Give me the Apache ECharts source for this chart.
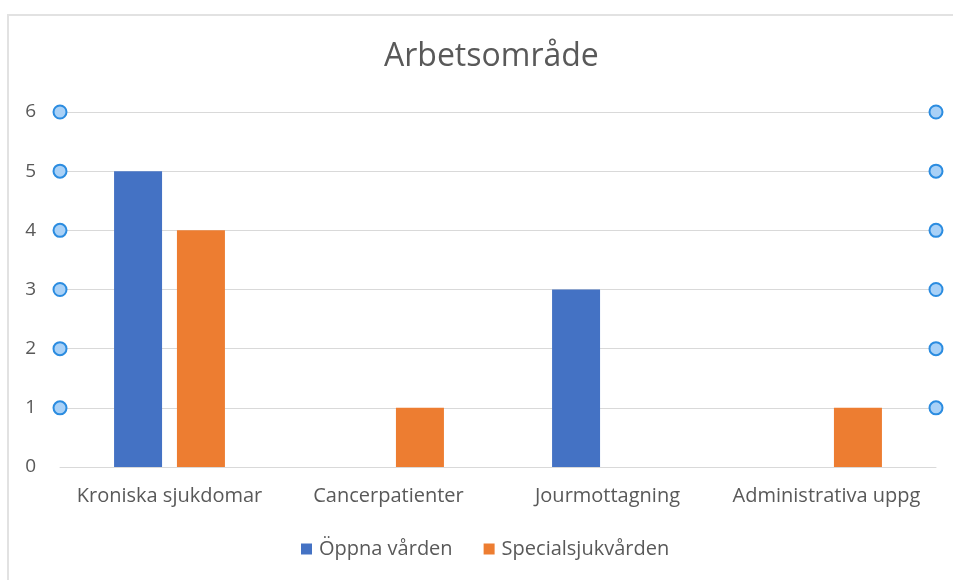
<!DOCTYPE html>
<html>
<head>
<meta charset="utf-8">
<script src="https://cdn.jsdelivr.net/npm/echarts@6/dist/echarts.min.js"></script>
<style>
  html, body { margin: 0; padding: 0; background: #fff; }
  #chart { width: 953px; height: 580px; }
</style>
</head>
<body>
<div id="chart"></div>
<script>
// data
var categories = ['Kroniska sjukdomar', 'Cancerpatienter', 'Jourmottagning', 'Administrativa uppg'];
var oppnaVarden = [5, 0, 3, 0];
var specialVarden = [4, 1, 0, 1];
var yTicks = [0, 1, 2, 3, 4, 5, 6];

var chart = echarts.init(document.getElementById('chart'));

// selection handles at both ends of each gridline (hidden 0..1 x axis)
var handles = [];
yTicks.forEach(function (v) {
  if (v > 0) {
    handles.push([0, v]);
    handles.push([1, v]);
  }
});

var font = '"Open Sans", "Noto Sans", sans-serif';

chart.setOption({
  animation: false,
  textStyle: { fontFamily: font },
  title: {
    text: 'Arbetsområde',
    left: 379,
    top: 36,
    textStyle: { fontFamily: font, fontSize: 32, fontWeight: 'normal', color: '#595959' }
  },
  graphic: [{
    type: 'rect',
    shape: { x: 8, y: 15, width: 1000, height: 700 },
    style: { fill: 'none', stroke: '#e2e2e2', lineWidth: 2 },
    silent: true
  }],
  legend: {
    data: ['Öppna vården', 'Specialsjukvården'],
    top: 534,
    left: 296,
    itemWidth: 11,
    itemHeight: 11,
    itemGap: 31,
    icon: 'rect',
    textStyle: { fontFamily: font, fontSize: 20, color: '#595959', padding: [0, 0, 0, 2] }
  },
  grid: { left: 60, right: 17, top: 112, bottom: 113 },
  xAxis: [{
    type: 'category',
    data: categories,
    axisTick: { show: false },
    axisLine: { lineStyle: { color: '#d9d9d9', width: 1 } },
    axisLabel: { fontFamily: font, fontSize: 20, color: '#595959', margin: 19, interval: 0 }
  }, {
    type: 'value',
    min: 0,
    max: 1,
    show: false
  }],
  yAxis: [{
    type: 'value',
    min: 0,
    max: 6,
    interval: 1,
    axisLine: { show: false },
    axisTick: { show: false },
    splitLine: { lineStyle: { color: '#d9d9d9', width: 1 } },
    axisLabel: { fontFamily: font, fontSize: 19, color: '#595959', margin: 24 }
  }, {
    type: 'value',
    min: 0,
    max: 6,
    show: false
  }],
  series: [{
    name: 'Öppna vården',
    type: 'bar',
    data: oppnaVarden,
    barWidth: 48,
    barGap: '31%',
    itemStyle: { color: '#4472c4' }
  }, {
    name: 'Specialsjukvården',
    type: 'bar',
    data: specialVarden,
    barWidth: 48,
    itemStyle: { color: '#ed7d31' }
  }, {
    name: 'handles',
    type: 'scatter',
    xAxisIndex: 1,
    yAxisIndex: 1,
    data: handles,
    symbolSize: 13,
    itemStyle: { color: '#a9d1f7', borderColor: '#2b8ce0', borderWidth: 2, opacity: 1 },
    z: 5
  }]
});
</script>
</body>
</html>
